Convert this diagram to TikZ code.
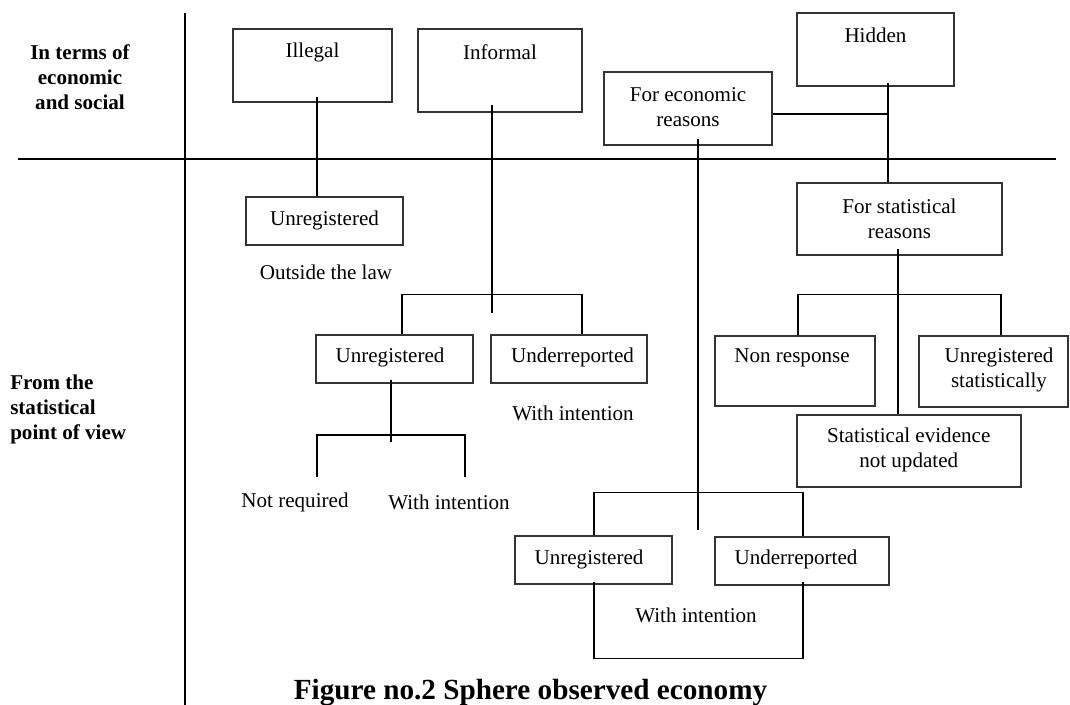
\documentclass[tikz,border=0pt]{standalone}
\usepackage{fontspec}
\setmainfont{Liberation Serif}
\usetikzlibrary{calc}

\tikzset{
  box/.style={draw=black!80, line width=0.8pt, rectangle, inner sep=0pt},
  txt/.style={inner sep=0pt, align=center, font=\fontsize{15.8}{18.75}\selectfont},
  side/.style={inner sep=0pt, font=\fontsize{15.8}{18.75}\selectfont\bfseries},
  link/.style={draw=black, line width=1.3pt},
  axis/.style={draw=black, line width=1.3pt},
  caption/.style={inner sep=0pt, font=\fontsize{21.9}{26}\selectfont\bfseries}
}

\begin{document}
\begin{tikzpicture}[x=0.75pt, y=-0.75pt]
\useasboundingbox (0,0) rectangle (1070,705);

% quadrant axes
\coordinate (vtop) at (185,13);
\coordinate (vbot) at (185,705);
\coordinate (hleft) at (18,159);
\coordinate (hright) at (1056,159);
\draw[axis] (vtop) -- (vbot);
\draw[axis] (hleft) -- (hright);

% row headings
\node[side, align=center] (rowtop) at (80,77) {In terms of\\economic\\and social};
\node[side, align=left, anchor=west] (rowbot) at (10,409) {From the\\statistical\\point of view};

% boxes (frames)
\node[box, minimum width=119.25pt, minimum height=54.75pt] (illegal)  at (312.5,65.5) {};
\node[box, minimum width=123pt,    minimum height=62.25pt] (informal) at (500,70.5) {};
\node[box, minimum width=126pt,    minimum height=54.75pt] (econ)     at (688,108.5) {};
\node[box, minimum width=117.75pt, minimum height=54.75pt] (hidden)   at (875.5,49.5) {};
\node[box, minimum width=117.75pt, minimum height=36pt]    (unregA)   at (324.5,221) {};
\node[box, minimum width=153.75pt, minimum height=54pt]    (stat)     at (899.5,219) {};
\node[box, minimum width=117.75pt, minimum height=36pt]    (unregB)   at (394.5,359) {};
\node[box, minimum width=117pt,    minimum height=36pt]    (underA)   at (569,359) {};
\node[box, minimum width=120pt,    minimum height=52.5pt]  (nonresp)  at (795,371) {};
\node[box, minimum width=111.75pt, minimum height=53.25pt] (unregst)  at (993.5,371.5) {};
\node[box, minimum width=168pt,    minimum height=54pt]    (evid)     at (909,451) {};
\node[box, minimum width=117.75pt, minimum height=36pt]    (unregC)   at (593.5,560) {};
\node[box, minimum width=130.5pt,  minimum height=36pt]    (underB)   at (802,561) {};

% box texts
\node[txt] (illegalT)  at (312.5,52) {Illegal};
\node[txt] (informalT) at (500,52) {Informal};
\node[txt] (econT)     at (688,107.5) {For economic\\reasons};
\node[txt] (hiddenT)   at (875.5,35) {Hidden};
\node[txt] (unregAT)   at (324.5,220) {Unregistered};
\node[txt] (statT)     at (899.5,219) {For statistical\\reasons};
\node[txt] (unregBT)   at (390,357) {Unregistered};
\node[txt] (underAT)   at (572.5,357) {Underreported};
\node[txt] (nonrespT)  at (792,358) {Non response};
\node[txt] (unregstT)  at (999,370) {Unregistered\\statistically};
\node[txt] (evidT)     at (908.7,450) {Statistical evidence\\not updated};
\node[txt] (unregCT)   at (589,559) {Unregistered};
\node[txt] (underBT)   at (796,559) {Underreported};

% free labels
\node[txt] (outside)  at (326,272) {Outside the law};
\node[txt] (intentA)  at (573,413) {With intention};
\node[txt] (notreq)   at (295,502) {Not required};
\node[txt] (intentB)  at (449,502) {With intention};
\node[txt] (intentC)  at (696,615) {With intention};

% Illegal -> Unregistered
\draw[link] ($(illegal.south)+(4.5,-6)$) -- ($(unregA.north)+(-7.5,0)$);

% Informal -> Unregistered / Underreported
\coordinate (forkInf) at (492,313);
\draw[link] ($(informal.south)+(-8,-8)$) -- (forkInf);
\draw[link] ($(unregB.north)+(7.5,0)$) -- ++(0,-40) -| ($(underA.north)+(13,0)$);

% Unregistered -> Not required / With intention
\coordinate (forkUnr) at (391,442);
\draw[link] ($(unregB.south)+(-3.5,-4)$) -- (forkUnr);
\coordinate (legL) at (317,477);
\coordinate (legR) at (465,477);
\draw[link] (legL) -- ++(0,-42) -| (legR);

% For economic reasons -> Unregistered / Underreported
\coordinate (forkEco) at (698,530);
\draw[link] ($(econ.south)+(10,-7)$) -- (forkEco);
\draw[link] ($(unregC.north)+(0.5,0)$) -- ++(0,-43) -| ($(underB.north)+(1,0)$);

% For economic reasons -> Hidden trunk
\draw[link] (econ.east |- 0,114) -- (888,114);

% Hidden -> For statistical reasons
\draw[link] ($(hidden.south)+(12.5,-4)$) -- ($(stat.north)+(-11.5,0)$);

% For statistical reasons -> its three sources
\draw[link] ($(stat.south)+(-1.5,-7)$) -- ($(evid.north)+(-11,0)$);
\draw[link] ($(nonresp.north)+(3,0)$) -- ++(0,-41) -| ($(unregst.north)+(7.5,0)$);

% bottom bracket joining Unregistered and Underreported
\draw[link] ($(unregC.south)+(0.5,-3)$) -- ++(0,77) -| ($(underB.south)+(1,-4)$);

% caption
\node[caption, anchor=base] (cap) at (530.5,699) {Figure no.2 Sphere observed economy};
\end{tikzpicture}
\end{document}
